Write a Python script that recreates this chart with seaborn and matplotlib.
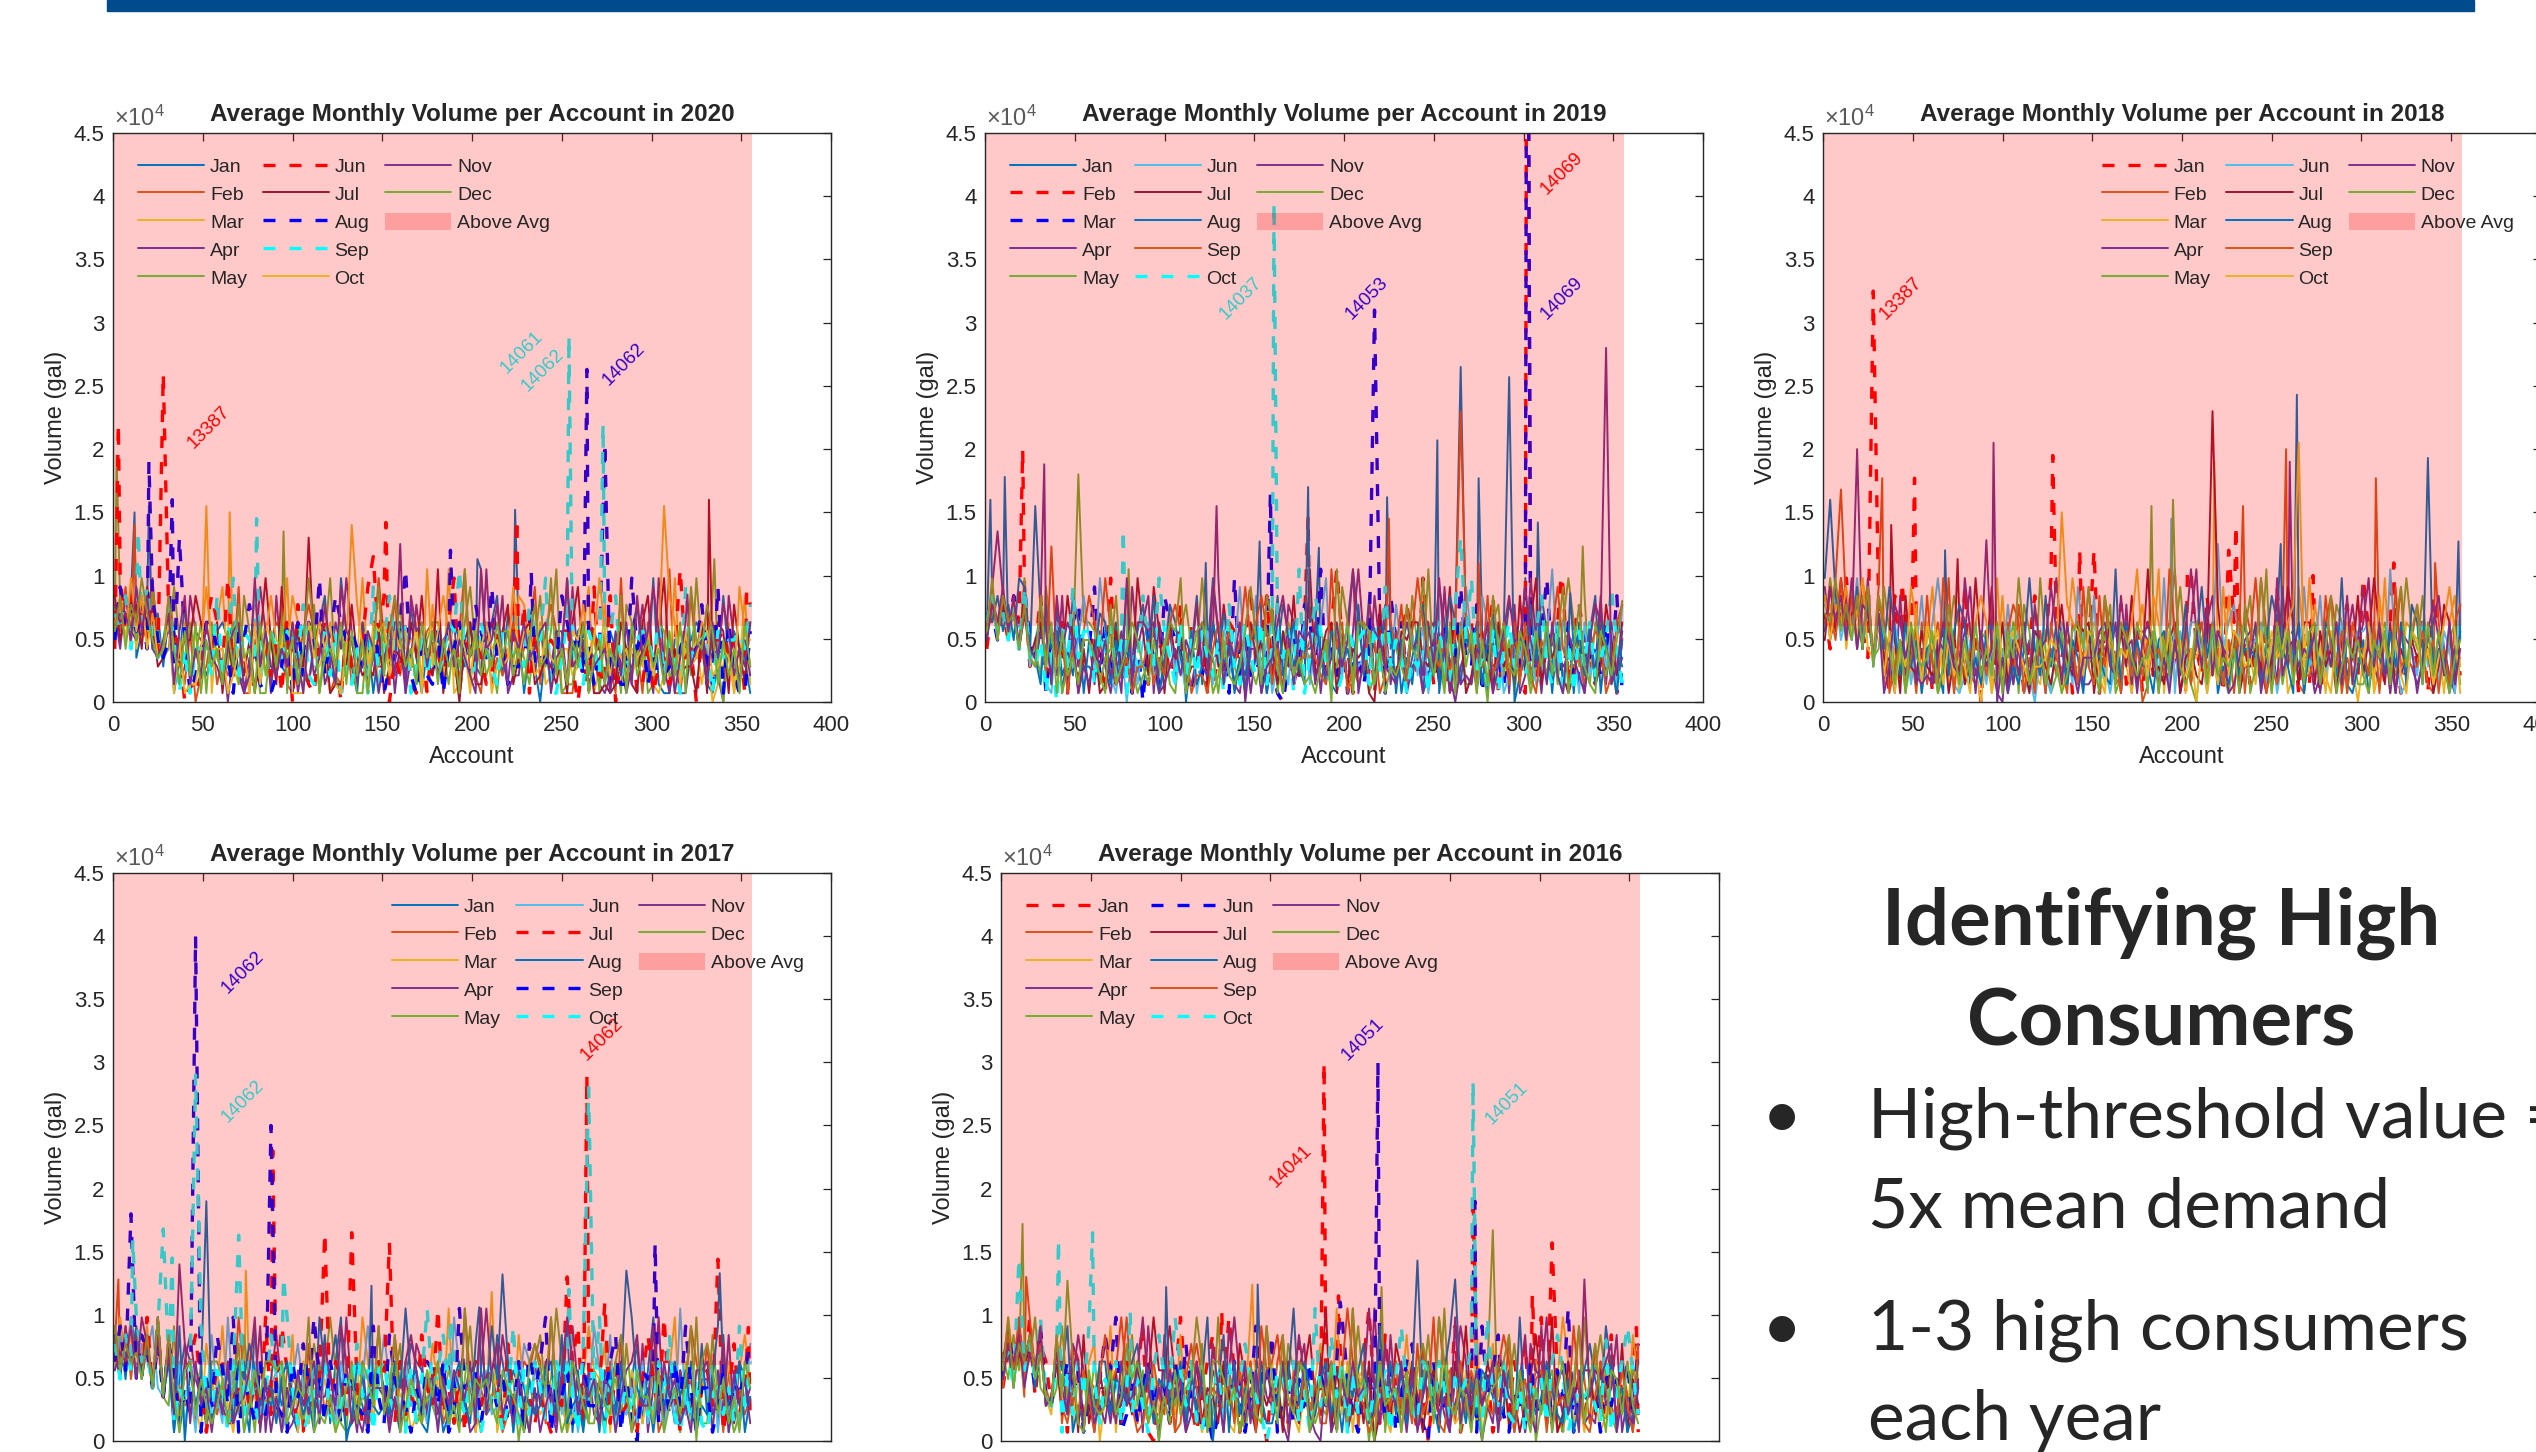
import numpy as np
import pandas as pd
import matplotlib
matplotlib.use("Agg")
import matplotlib.pyplot as plt
import seaborn as sns
from matplotlib.patches import Rectangle
from matplotlib.lines import Line2D
from matplotlib.ticker import FuncFormatter

MONTHS = ["Jan", "Feb", "Mar", "Apr", "May", "Jun", "Jul", "Aug", "Sep", "Oct", "Nov", "Dec"]
MATLAB_ORDER = ["#0072BD", "#D95319", "#EDB120", "#7E2F8E", "#77AC30", "#4DBEEE", "#A2142F"]
FLAG_COLORS = {"r": "#FF0000", "b": "#0000FF", "c": "#00FFFF"}

STEP = 3          # accounts between stored band readings (1, 4, 7, ...)
UNIT = 700        # gallons per base-36 step in the band strings
THRESHOLD = 6000  # floor of the "Above Avg" band
N_ACCOUNTS = 356

# ---- 2020 ----
BAND_2020 = [
    "9a7c58b6a4 a15b265358 979323d462 643383279c 42e8419716 93993b5165 82697494f5 9c3a781640 6286d58998 6286348b53 e211786798 214c58651",
    "b8d6a97c85 c862803482 534d117267 982148b865 132823666e 75c3844689 55858f2317 25359468d2 8b81117458 2841e27619 3852116c55 b64462294",
    "7c9b6a8d57 b549383c19 d442881697 566c933446 128475e482 337867831b 52f1261969 14564cb669 23466348d1 4b54326648 2133e36472 6024914c2",
    "a6c87b9e65 9724c87666 6063155d81 c488152692 496e829254 491715b643 678925943f 46c1338538 54882d4665 21384146b5 1e41511669 4330c7273",
    "8b9a7c6d85 6d75959195 3492c86117 3819326b17 e318511854 847b462379 962749d673 518857527c 48f1227938 18361b9491 29833673e6 2c4065664",
    "6e8c9a7b54 a8602139c9 4e39522473 7190b62179 8609437d27 c053921717 629e176752 384674b184 676694051d 24c0568127 14526f5608 27785771b",
    "c7a8b6d945 b7577c9669 17363717e7 2d46844698 1224b53438 1465495c53 f165079227 968b258923 542619d561 121296219c 48e4634418 15981b629",
    "7d9b8a6c75 74d7136996 45187b7211 34919395e3 7c97864995 1459f31732 8166963b85 d562445945 534c968362 642522e682 533446856b 52d193118",
    "a8c6b9d756 b71616663c 37e3875288 65875b3268 38142661d1 7c66914736 3598f53496 4287554b87 e115956286 388c353787 593751d577 81857786b",
    "9b7e8c6a56 9171226d66 613661927c 76e1119596 92164b6198 93868491f4 8c83862869 6745d58834 7546287b57 e836563567 374c928459 834651d87",
    "b9a7d8c657 a28c263954 268913e484 364951835b 62d8734861 57321c8948 36947531f6 7b52869568 9156e45724 5617392c58 d826159467 295b83649",
    "8c6b9ea756 c628391746 284b561938 495726e815 649283716d 38c7462958 27461f5836 49583627b4 5e36274915 7264c19357 4628391d76 b82736194",
]
SPIKES_2020 = [
    ("Jun", 3, 22000), ("May", 2, 19500), ("Jan", 12, 15000), ("Feb", 12, 14000), ("Sep", 14, 13500),
    ("Jan", 20, 15500), ("Aug", 20, 19000), ("Jun", 28, 26000), ("Aug", 33, 16000), ("Aug", 37, 13000),
    ("Mar", 52, 15500), ("Mar", 65, 15000), ("Sep", 80, 14500), ("May", 95, 13500), ("Jul", 109, 13000),
    ("Oct", 133, 14000), ("Jun", 145, 11500), ("Jun", 152, 14200), ("Nov", 160, 12500), ("Aug", 188, 12000),
    ("Jan", 203, 11300), ("Jan", 224, 15200), ("Jun", 225, 14500), ("Aug", 233, 10300), ("Sep", 254, 29000),
    ("Aug", 264, 26300), ("Sep", 273, 22000), ("Aug", 274, 20500), ("Oct", 307, 15500), ("Feb", 310, 10500),
    ("Nov", 320, 8500), ("Jul", 332, 16000), ("May", 335, 11300), ("Jun", 353, 8800),
]
FLAGGED_2020 = {"Jun": "r", "Aug": "b", "Sep": "c"}
LABELS_2020 = [("13387", "r", 40, 19800), ("14061", "c", 214, 25700), ("14062", "c", 225.6, 24300), ("14062", "b", 271, 24800)]

# ---- 2019 ----
BAND_2019 = [
    "8c9a7b6d58 a92b163844 386295d141 741583906c 26e8471537 91536b8476 68472159f9 4c29368152 8136d94728 5381726b94 e264953181 938c17264",
    "6b8a7c9d46 c346918255 951e267433 286735b198 612549837d 47c3106259 83549f7614 69182537b7 3e72841969 9246c17383 1835769d28 b74293618",
    "9a7b8c6d75 9185739b66 d394825170 852c976414 374651e283 526910473b 94f2638155 26581c7939 78243965d5 4b17352684 6358e47292 2856394c1",
    "7d8c9a6b54 8653c19477 2741583d69 c196847325 948e362171 683271b948 391754628f 73c6928514 51892d3046 86234591b1 3e71826455 7164c2935",
    "8a9c7b6e56 3d78146299 8256c37413 4937218b66 e613894254 254b179636 578634d918 913587642c 64f3519382 28509b3717 51463829e9 4c2953718",
    "9b7c8a6d47 a2198547c7 4e83160627 9346b25181 5827936d45 c371452969 269e183774 582473b698 391654827d 74c9281365 86237f4956 19357482b",
    "7c8b9a6d57 94385c7161 71258463e8 3d81957244 8294b65719 5716284c33 f358917265 610b452879 954726d181 378519462c 49e2657313 65824b739",
    "a9c8b7ed65 2b6835c917 5a9273648b 6c14b95382 4396a72518 7815c36942 9a5287463b 3864b91725 8b5316c947 6927a48103 5b4c819276 8392a6417",
    "8d7c9b6a54 b39471628c 96e8235144 72539b8613 31695847d7 9c82617355 7532f69142 4871396b28 e956473819 614c357292 931758d644 52687139b",
    "9c8a7b6d54 716094d588 285937164c 64e8529373 85371b4295 39267581f1 5c84213967 8293d47515 4618932b57 e352816943 368c429171 849357d62",
    "7b9d8c6a65 b82c697142 647351e299 891246375b 43d8275906 61459c7287 82635947f1 5b87432696 7394e61523 2659148c77 d746293185 317b95248",
    "8e7c9a6b54 c491835277 531b246974 274698e158 965173248d 72c9416352 31470f5929 98261435b6 5e63728194 8172c69438 6284937d16 b42186375",
]
SPIKES_2019 = [
    ("Jan", 3, 16000), ("Apr", 7, 13500), ("Jan", 11, 17800), ("Feb", 21, 20000), ("Jan", 28, 15500),
    ("Nov", 33, 18800), ("Sep", 37, 12300), ("May", 52, 18000), ("Oct", 77, 13700), ("May", 80, 10500),
    ("Jan", 123, 11000), ("Apr", 129, 15500), ("Aug", 153, 12700), ("Mar", 159, 16500), ("Oct", 161, 39500),
    ("Aug", 180, 17000), ("Feb", 180, 14700), ("Jan", 186, 12200), ("Mar", 217, 31000), ("Jan", 224, 16200),
    ("Sep", 225, 14500), ("Aug", 252, 20700), ("Aug", 265, 26500), ("Sep", 265, 23000), ("Oct", 265, 13000),
    ("Jan", 275, 17700), ("Sep", 275, 11000), ("Aug", 292, 25700), ("Feb", 302, 80000), ("Mar", 302, 80000),
    ("Jan", 308, 14200), ("Feb", 321, 10000), ("Aug", 326, 8600), ("May", 333, 12300), ("Nov", 346, 28000),
    ("Dec", 355, 8000),
]
FLAGGED_2019 = {"Feb": "r", "Mar": "b", "Oct": "c"}
LABELS_2019 = [("14037", "c", 129, 30000), ("14053", "b", 199, 30000), ("14069", "r", 308, 39900), ("14069", "b", 308, 30000)]

# ---- 2018 ----
BAND_2018 = [
    "a6c9e7b85d b61c294858 159472d380 826394717c 47e9581636 51846b2391 93742581f6 3c58149272 7492d35818 2915748b63 e837295147 491c86273",
    "c8e7a9d6b5 d283546192 694e175324 357192b648 826341975d 64c5238170 28179f3646 93462718b8 5e83694721 7629c81535 4356817d27 b62193745",
    "9b8d6c7ea5 c926483b17 d372615940 614c397253 285617e936 952736418b 46f1827355 78352c6496 62485913d7 3b71856240 5814e27398 7382619c4",
    "d7a9c8b6e4 9451c37266 2769458d35 c510826473 618e735922 376591b288 752368149f 49c2658378 83672d4595 51384927b6 9e42718354 2479c6318",
    "8e9b7d6ca5 6d84715929 5137c82648 7426591b82 e613847255 487b136596 195847d620 624731598c 35f1826477 87354b9162 24869537e8 6c5384792",
    "b9c7a8e6d4 a7395826c4 9e86213747 2694b58130 5318962d74 c241597363 673e218499 518369b726 792615843d 46c3729858 89573f6126 39472861b",
    "7d8e9ab6c5 95271c4384 36815924e6 5d39267418 7426b53989 1659384c25 f342791563 276b538144 641587d929 928461735c 37e8291647 57614b928",
    "e8c9a7d6b5 a6d8394716 74138b9252 89751426e6 3c49627518 6532f19474 4178365b27 d591427366 527c964181 684973e214 716538492b 92d365147",
    "9a7e8c6bd5 b91472583c 42e8193667 37628b9151 81953762d4 2c47518363 7563f84928 9436275b17 e614259373 352c648196 639182d454 48571629b",
    "c7b9d8ae65 938164d929 682735419c 91e3786424 45762b9838 73184659f6 3c94857160 6152d38745 2837569b14 e463185926 592c647318 736259d81",
    "8d9c7e6ba5 a14b958323 259743e818 460517392b 67d8294155 58943c6717 96251738f8 4b38612595 9152e36746 5817493c27 d649351876 158b73926",
    "a9e8b7c6d4 c862719545 814b627393 639185e725 725413896d 41c8297535 58173f4249 72935461b1 4e61958272 8926c14757 3175829d48 b29384157",
]
SPIKES_2018 = [
    ("Aug", 4, 16000), ("Feb", 10, 16800), ("Apr", 19, 20000), ("Jan", 28, 32500), ("Feb", 33, 17700),
    ("Jul", 38, 14000), ("Jan", 44, 9500), ("Jan", 51, 17700), ("Aug", 68, 12000), ("Jul", 75, 11300),
    ("Apr", 91, 12800), ("Nov", 95, 20500), ("Jan", 128, 19500), ("Oct", 133, 15000), ("Jan", 143, 12000),
    ("Jan", 151, 12000), ("May", 183, 15500), ("Jun", 194, 14500), ("Dec", 195, 16000), ("Jan", 203, 10200),
    ("Jul", 217, 23000), ("Mar", 218, 19000), ("Jun", 220, 12500), ("Jan", 226, 12000), ("Jan", 230, 14000),
    ("Feb", 234, 15500), ("Aug", 255, 12500), ("Feb", 258, 20000), ("Apr", 260, 19000), ("Aug", 264, 24300),
    ("Oct", 265, 20500), ("Jan", 273, 10000), ("Feb", 308, 17700), ("Jan", 318, 11000), ("Aug", 337, 19300),
    ("Feb", 341, 11000), ("Aug", 354, 12700),
]
FLAGGED_2018 = {"Jan": "r"}
LABELS_2018 = [("13387", "r", 29.5, 30000)]

# ---- 2017 ----
BAND_2017 = [
    "9c7ea8b6d5 a17b946388 382951d464 746318295c 29e0364179 63417b9828 86172345f3 4c95861737 7534d18266 1869347b28 e746283914 382c15974",
    "b8d7c9a6e5 c364529173 695e738246 428761b393 763924815d 35c6972484 92483f7163 57134698b9 2e65193747 6492c51374 8137526d95 b47182635",
    "8e9c7ad6b5 a957841b66 d416375298 573c192647 416385e929 879561324b 63f2948175 91472c6353 46851327d8 7b19648526 3658e19747 5264938c7",
    "a7d8b9c6e5 9839c75244 4275936d17 c612483755 834e519266 528174b938 379465128f 75c8324194 94172d6383 28549371b1 6e29485737 7183c2946",
    "d9a8c7b6e5 4d15387299 7583c61945 3954726b78 e821935447 947b162354 258637d416 832670519c 57f9184628 41672b5383 93856172e2 2c5841397",
    "8c9e7bad65 a3926184c5 2e48159376 8137b64929 5294387d66 c763948527 791e824368 346815b977 628397154d 85c1736292 46172f3858 59173624b",
    "9b8ac7e6d5 b7489c6158 91568472e3 6d85219376 4973b62589 7829354c64 f362817947 981b463525 315479d288 692834517c 73e4618526 84915b362",
    "c8a9d7b6e5 91d0847525 53297b8466 27946351e8 8c61297343 4396f78216 6137942b85 d759186434 893c245177 528371e646 164795832b 37d846915",
    "9d8e7ca6b5 b82639174c 84e1652939 43195b6272 96287431d5 2c75416398 4913f67826 6482391b59 e165823944 359c172087 827394d616 61492758b",
    "b7c8e9a6d5 926481d538 618739425c 78e6213649 32476b5818 95341827f6 8c69537414 5614d28396 2397851b45 e172463853 495c316272 157362d49",
    "8a9d7eb6c5 a35b294616 392458e171 516384792b 74d9231566 61529c8477 17486592f3 8b35274161 4628e93757 2761589c44 d395724188 935b18472",
    "d8b9a7c6e5 c518937424 726b148599 892465e132 513682974d 36c1475285 95241f3767 42865319b8 6e51397422 7439c61855 2814637d09 b83725196",
]
SPIKES_2017 = [
    ("Feb", 3, 12800), ("Sep", 10, 18000), ("Oct", 11, 16000), ("Oct", 28, 16800), ("Oct", 33, 14500),
    ("Nov", 37, 14000), ("Sep", 46, 40000), ("Oct", 46, 29000), ("Aug", 52, 19000), ("Oct", 70, 16300),
    ("Mar", 74, 13500), ("Sep", 88, 25000), ("Jul", 89, 23000), ("Oct", 95, 13000), ("Sep", 112, 9800),
    ("Jul", 118, 16500), ("Jul", 133, 16500), ("Aug", 144, 12300), ("Jul", 154, 15700), ("Oct", 188, 9700),
    ("Aug", 204, 10600), ("Mar", 211, 11800), ("Aug", 217, 13200), ("Jul", 253, 13000), ("Oct", 254, 12000),
    ("Jul", 264, 29000), ("Oct", 265, 28000), ("Jul", 274, 11000), ("Aug", 286, 13500), ("Sep", 302, 15700),
    ("Jul", 337, 14400), ("Aug", 338, 13300), ("Jul", 354, 9000),
]
FLAGGED_2017 = {"Jul": "r", "Sep": "b", "Oct": "c"}
LABELS_2017 = [("14062", "b", 59, 35200), ("14062", "c", 59, 25000), ("14062", "r", 258.5, 29900)]

# ---- 2016 ----
BAND_2016 = [
    "6a8c7e5b94 a71b926484 625978d105 827364159c 46e8172950 75924b8363 58142639f5 2c47385160 6385d14293 8146395b27 e297184636 462c37581",
    "9b7c5e8a64 c284917636 937e526847 461298b750 728513946d 39c1827454 84273f1960 57394682b3 4e78293564 6823c47158 9461385d72 b38429516",
    "7e9a6c8b53 a462719b05 d184637293 793c264151 562194e387 948531627b 62f3918546 83165c4724 75942381d1 3b58126499 6837e92517 5139642c7",
    "8b6d9a7c45 9937c85166 2748591d60 c365174828 618e726495 472068b139 795814362f 52c4617385 86317d9240 42958361b8 7e16394823 2946c1537",
    "a7c8b9e654 6d58273946 7395c48260 5847392b13 e276415838 653b897424 384927d605 917538426c 54f3916727 82196b5370 46831572e6 8c7316294",
    "7c9b8a6d54 a69581437c 8e13726947 6294b57130 3849615d76 c156273948 469e731583 738159b420 924638571d 58c3164294 39285f1646 61847392b",
    "9d7a8c6b45 93491c2584 48263957e8 8d74539265 2953b74164 6719428c57 f184637290 362b849516 847295d364 963825147c 62e1395788 38592b174",
    "8a7d9c6b54 a8d1426399 37649b5827 64592837e0 7c19364252 2587f49637 9361758b24 d493827159 418c962738 752481e363 596327148b 74d856139",
    "6c8e7a9b45 b42638517c 68e7412595 39187b6246 53728491d8 9c64538272 2738f96413 8549162b35 e217394856 438c915727 817453d621 59623841b",
    "9a6c8b7e54 918395d727 592637418c 76e8492155 82946b7530 38759261f4 6c59183726 5817d64298 3962857b41 e549326175 729c814656 427159d83",
    "7b9c6a8d45 a63b917242 729458e636 485713962b 61d7592848 54926c7310 81374956f6 2b64938158 7351e26484 6918547c31 d527836195 879b15326",
    "8e6b9c7a54 c579218434 835b796242 528367e919 974615832d 72c5398147 49185f6730 94561738b8 2e94365170 5679c38416 3816947d27 b51873942",
]
SPIKES_2016 = [
    ("Oct", 10, 14500), ("May", 12, 17200), ("Feb", 14, 13000), ("Oct", 32, 16000), ("Dec", 37, 12700),
    ("Oct", 51, 16500), ("Oct", 72, 10300), ("Aug", 92, 12200), ("Jan", 100, 9800), ("Jan", 123, 10300),
    ("Mar", 140, 12400), ("Aug", 143, 12400), ("Jan", 180, 30000), ("Jan", 188, 11500), ("Jun", 189, 11000),
    ("Jun", 210, 30000), ("May", 212, 12200), ("Aug", 232, 14300), ("Aug", 253, 12800), ("Jan", 263, 19500),
    ("Oct", 263, 28500), ("Jun", 264, 19000), ("May", 274, 16700), ("Jan", 296, 11600), ("Jan", 307, 15700),
    ("Nov", 325, 12800), ("Oct", 337, 8000), ("Jan", 354, 9000),
]
FLAGGED_2016 = {"Jan": "r", "Jun": "b", "Oct": "c"}
LABELS_2016 = [("14041", "r", 148, 19800), ("14051", "b", 188, 29900), ("14051", "c", 268, 24800)]

SIDE_TITLE = ["Identifying High", "Consumers"]
SIDE_BULLETS = [["High-threshold value =", "5x mean demand"], ["1-3 high consumers", "each year"]]

W, H = 2536, 1452
INK = "#262626"


def month_frame(code, spikes, month):
    pts = {1 + STEP * i: int(ch, 36) * UNIT for i, ch in enumerate(code.replace(" ", ""))}
    for m, acc, vol in spikes:
        if m == month:
            pts[acc] = vol
    acc = sorted(pts)
    return pd.DataFrame({"Account": acc, "Volume": [pts[a] for a in acc]})


def draw_panel(fig, left, top, height, year, band, spikes, flagged, labels, legend_side):
    ax = fig.add_axes([left / W, 1 - (top + height) / H, 718 / W, height / H])
    for k, month in enumerate(MONTHS):
        df = month_frame(band[k], spikes, month)
        if month in flagged:
            style = dict(color=FLAG_COLORS[flagged[month]], linewidth=2.4, linestyle=(0, (3.6, 4.2)))
        else:
            style = dict(color=MATLAB_ORDER[k % 7], linewidth=1.4)
        sns.lineplot(data=df, x="Account", y="Volume", ax=ax, estimator=None,
                     sort=False, label=month, **style)

    ax.fill_between([0, N_ACCOUNTS], THRESHOLD, 45000, color="red", alpha=0.21,
                    linewidth=0, zorder=3, label="Above Avg")

    for txt, c, x, y in labels:
        ax.text(x, y, txt, color=FLAG_COLORS[c], rotation=45, ha="left", va="bottom",
                fontsize=13.5, zorder=2.5)

    ax.set_xlim(0, 400)
    ax.set_ylim(0, 45000)
    ax.set_xticks(np.arange(0, 401, 50))
    ax.set_yticks(np.arange(0, 45001, 5000))
    ax.yaxis.set_major_formatter(FuncFormatter(lambda v, _: f"{v / 1e4:g}"))
    ax.tick_params(direction="in", top=True, right=True, length=6, width=0.9,
                   color=INK, labelcolor=INK, labelsize=16)
    ax.tick_params(axis="y", pad=6)
    ax.tick_params(axis="x", pad=9)
    for s in ax.spines.values():
        s.set_color(INK)
        s.set_linewidth(1.0)
        s.set_zorder(4)

    ax.set_xlabel("Account", fontsize=17, color=INK, labelpad=7.5)
    ax.set_ylabel("Volume (gal)", fontsize=17, color=INK, labelpad=5)
    ax.set_title(f"Average Monthly Volume per Account in {year}", fontsize=17.5,
                 fontweight="bold", pad=9)
    ax.annotate(r"$\times\mathdefault{10^{4}}$", xy=(0, 1), xycoords="axes fraction",
                xytext=(1, 5), textcoords="offset points", ha="left", va="baseline",
                fontsize=17, color="#595959")

    handles, names = ax.get_legend_handles_labels()
    # empty slot so the three columns hold 5, 5 and 3 entries
    handles.append(Line2D([], [], linestyle="none"))
    names.append("")
    if legend_side == "left":
        loc, anchor = "upper left", (0.035, 0.958)
    else:
        loc, anchor = "upper right", (0.962, 0.958)
    leg = ax.legend(handles, names, ncol=3, loc=loc, bbox_to_anchor=anchor, frameon=False,
                    fontsize=14, handlelength=3.4, handletextpad=0.3, columnspacing=0.8,
                    labelspacing=0.44, borderpad=0, borderaxespad=0, handleheight=1.0)
    for t in leg.get_texts():
        t.set_color(INK)
    leg.set_zorder(6)
    return ax


sns.set_style("white")
plt.rcParams["font.family"] = ["Liberation Sans", "DejaVu Sans"]
plt.rcParams["mathtext.fontset"] = "custom"
plt.rcParams["mathtext.rm"] = "Liberation Sans"

fig = plt.figure(figsize=(W / 100, H / 100), dpi=100)

draw_panel(fig, 113, 133, 569, 2020, BAND_2020, SPIKES_2020, FLAGGED_2020, LABELS_2020, "left")
draw_panel(fig, 985, 133, 569, 2019, BAND_2019, SPIKES_2019, FLAGGED_2019, LABELS_2019, "left")
draw_panel(fig, 1823, 133, 569, 2018, BAND_2018, SPIKES_2018, FLAGGED_2018, LABELS_2018, "right")
draw_panel(fig, 113, 873, 568, 2017, BAND_2017, SPIKES_2017, FLAGGED_2017, LABELS_2017, "right")
draw_panel(fig, 1001, 873, 568, 2016, BAND_2016, SPIKES_2016, FLAGGED_2016, LABELS_2016, "left")

# slide header bar
fig.add_artist(Rectangle((107 / W, 1 - 11 / H), (2474 - 107) / W, 11 / H,
                         transform=fig.transFigure, color="#004B8D", zorder=10))

# side text
for line, base in zip(SIDE_TITLE, [945, 1046]):
    fig.text(2161 / W, 1 - base / H, line, ha="center", va="baseline", fontsize=56,
             fontweight="bold", family="Lato")
for (first, second), base in zip(SIDE_BULLETS, [1138, 1350]):
    fig.text(1782 / W, 1 - base / H, "\u2022", ha="center", va="baseline", fontsize=50, family="Lato")
    fig.text(1868 / W, 1 - base / H, first, ha="left", va="baseline", fontsize=50, family="Lato")
    fig.text(1868 / W, 1 - (base + 90) / H, second, ha="left", va="baseline", fontsize=50, family="Lato")

fig.savefig("out.png", dpi=100)
